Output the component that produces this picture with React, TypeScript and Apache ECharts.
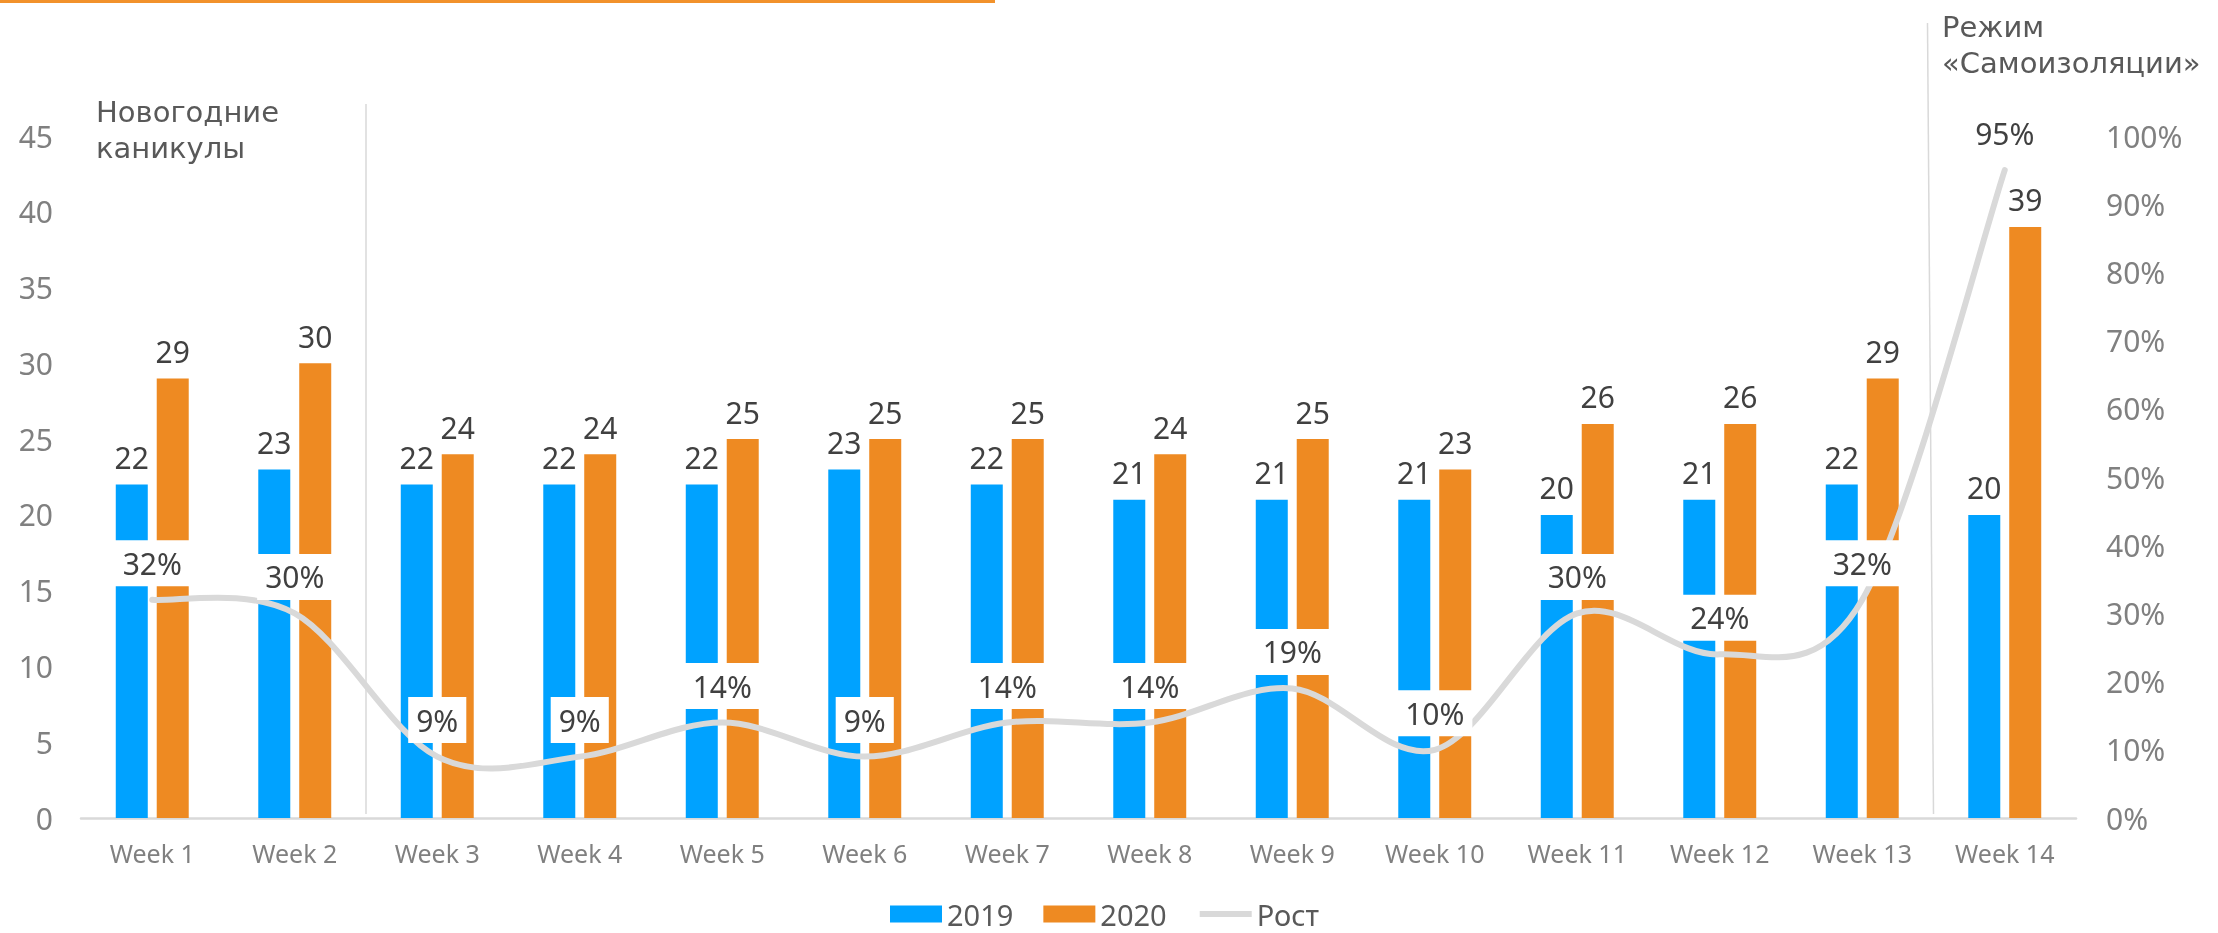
import React, { useEffect, useRef } from "react";
import * as echarts from "echarts";

const categories = ["Week 1", "Week 2", "Week 3", "Week 4", "Week 5", "Week 6", "Week 7", "Week 8", "Week 9", "Week 10", "Week 11", "Week 12", "Week 13", "Week 14"];
const values2019 = [22, 23, 22, 22, 22, 23, 22, 21, 21, 21, 20, 21, 22, 20];
const values2020 = [29, 30, 24, 24, 25, 25, 25, 24, 25, 23, 26, 26, 29, 39];
const growth = [0.32, 0.30, 0.09, 0.09, 0.14, 0.09, 0.14, 0.14, 0.19, 0.10, 0.30, 0.24, 0.32, 0.95];
const leftTicks = { min: 0, max: 45, interval: 5 };
const rightTicks = { min: 0, max: 1, interval: 0.1 };
const noteLeftLines = ["Новогодние", "каникулы"];
const noteRightLines = ["Режим", "«Самоизоляции»"];

const FONT = "'Noto Sans', 'Open Sans', sans-serif";
const NOTE_FONT = "'DejaVu Sans', 'Noto Sans', sans-serif";
const BLUE = "#00A2FF";
const ORANGE = "#EE8A22";
const LINE = "#D9D9D9";
const DARK = "#404040";
const AXIS = "#808080";

export default function App() {
  const ref = useRef<HTMLDivElement>(null);
  useEffect(() => {
    if (!ref.current) return;
    const chart = echarts.init(ref.current, undefined, { renderer: "svg" });

    // Excel-like (Catmull-Rom) smoothed curve through the growth points
    const renderCurve = (params: any, api: any) => {
      if (params.dataIndex !== 0) return null;
      const pts = growth.map((v, i) => api.coord([i, v]));
      const n = pts.length;
      let d = `M${pts[0][0]},${pts[0][1]}`;
      for (let i = 0; i < n - 1; i++) {
        const p0 = pts[Math.max(i - 1, 0)];
        const p1 = pts[i];
        const p2 = pts[i + 1];
        const p3 = pts[Math.min(i + 2, n - 1)];
        const c1x = p1[0] + (p2[0] - p0[0]) / 6;
        const c1y = p1[1] + (p2[1] - p0[1]) / 6;
        const c2x = p2[0] - (p3[0] - p1[0]) / 6;
        const c2y = p2[1] - (p3[1] - p1[1]) / 6;
        d += ` C${c1x},${c1y} ${c2x},${c2y} ${p2[0]},${p2[1]}`;
      }
      return {
        type: "path",
        shape: { pathData: d },
        style: { stroke: LINE, lineWidth: 6, fill: "none", lineCap: "round" },
      };
    };

    const option: any = {
      animation: false,
      textStyle: { fontFamily: FONT },
      grid: { left: 81, right: 142, top: 136, bottom: 115, containLabel: false },
      legend: {
        left: 885,
        top: 893,
        itemWidth: 52,
        itemHeight: 17,
        itemGap: 30,
        lineStyle: { width: 6, color: LINE, opacity: 1 },
        textStyle: { fontSize: 29, lineHeight: 32, color: "#595959", fontFamily: FONT },
        data: [
          { name: "2019", icon: "rect" },
          { name: "2020", icon: "rect" },
          { name: "Рост", itemStyle: { opacity: 0 }, lineStyle: { width: 6, color: LINE, opacity: 1 } },
        ],
      },
      xAxis: {
        type: "category",
        data: categories,
        axisLine: { lineStyle: { color: LINE, width: 2.5 } },
        axisTick: { show: false },
        axisLabel: { color: AXIS, fontSize: 25, margin: 22, fontFamily: FONT },
        splitLine: { show: false },
      },
      yAxis: [
        {
          type: "value",
          min: leftTicks.min,
          max: leftTicks.max,
          interval: leftTicks.interval,
          axisLine: { show: false },
          axisTick: { show: false },
          splitLine: { show: false },
          axisLabel: { color: AXIS, fontSize: 30, margin: 28, fontFamily: FONT },
        },
        {
          type: "value",
          min: rightTicks.min,
          max: rightTicks.max,
          interval: rightTicks.interval,
          axisLine: { show: false },
          axisTick: { show: false },
          splitLine: { show: false },
          axisLabel: {
            color: AXIS,
            fontSize: 30,
            margin: 30,
            fontFamily: FONT,
            formatter: (v: number) => Math.round(v * 100) + "%",
          },
        },
      ],
      series: [
        {
          name: "2019",
          type: "bar",
          data: values2019,
          barWidth: 32,
          barGap: "28%",
          itemStyle: { color: BLUE },
          label: { show: true, position: "top", distance: 12, color: DARK, fontSize: 30, fontFamily: FONT },
        },
        {
          name: "2020",
          type: "bar",
          data: values2020,
          barWidth: 32,
          barGap: "28%",
          itemStyle: { color: ORANGE },
          label: { show: true, position: "top", distance: 12, color: DARK, fontSize: 30, fontFamily: FONT },
        },
        {
          type: "custom",
          name: "curve",
          yAxisIndex: 1,
          data: growth.map((v, i) => [i, v]),
          encode: { x: 0, y: 1 },
          renderItem: renderCurve,
          z: 3,
          silent: true,
        },
        {
          name: "Рост",
          type: "line",
          yAxisIndex: 1,
          data: growth,
          symbol: "circle",
          symbolSize: 1,
          itemStyle: { color: LINE },
          lineStyle: { color: LINE, width: 6, opacity: 0 },
          z: 4,
          label: {
            show: true,
            position: "top",
            distance: 13,
            color: DARK,
            fontSize: 30,
            fontFamily: FONT,
            backgroundColor: "#FFFFFF",
            padding: [8, 8, 8, 8],
            formatter: (p: any) => Math.round(p.value * 100) + "%",
          },
        },
      ],
    };
    chart.setOption(option);

    const px = (i: number) => chart.convertToPixel({ xAxisIndex: 0 }, i) as number;
    const y0 = chart.convertToPixel({ yAxisIndex: 0 }, 0) as number;
    const sep1 = (px(1) + px(2)) / 2;
    const sep2 = (px(12) + px(13)) / 2;

    const note = (text: string, x: number, y: number) => ({
      type: "text",
      x,
      y,
      silent: true,
      style: { text, fill: "#595959", font: `29px ${NOTE_FONT}`, lineHeight: 33, verticalAlign: "middle", align: "left" },
    });

    chart.setOption({
      graphic: [
        { type: "rect", shape: { x: 0, y: 0, width: 995, height: 3 }, style: { fill: "#F2922B" }, silent: true },
        { type: "line", shape: { x1: sep1, y1: 104, x2: sep1, y2: y0 - 4 }, style: { stroke: LINE, lineWidth: 1.5 }, z: 0, silent: true },
        { type: "line", shape: { x1: sep2 - 6, y1: 23, x2: sep2, y2: y0 - 4 }, style: { stroke: LINE, lineWidth: 1.5 }, z: 0, silent: true },
        note(noteLeftLines[0], 96, 112),
        note(noteLeftLines[1], 96, 148),
        note(noteRightLines[0], 1942, 27),
        note(noteRightLines[1], 1942, 63),
      ],
    });

    return () => chart.dispose();
  }, []);
  return <div ref={ref} style={{ position: "fixed", left: 0, top: 0, width: 2218, height: 933 }} />;
}
